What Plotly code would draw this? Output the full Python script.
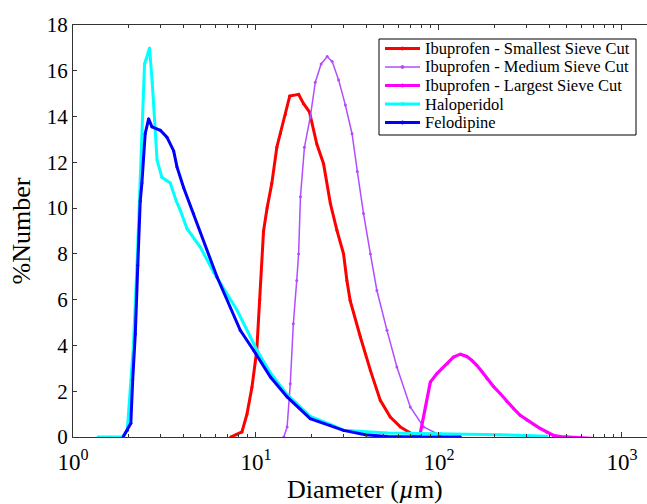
import plotly.graph_objects as go

# Number-weighted particle size distributions (diameter in µm, % number)
small_d = [7.28, 7.80, 8.38, 8.93, 9.51, 10.1, 10.5, 11.0, 11.5, 12.2, 13.0, 13.6, 14.5, 15.3,
           17.1, 18.2, 19.6, 21.5, 23.4, 25.5, 27.7, 30.1, 31.4, 32.7, 37.2, 42.2, 47.8, 54.2,
           61.5, 69.8, 79.1]
small_n = [0.0, 0.1, 0.22, 1.0, 2.18, 3.79, 6.0, 9.0, 10.0, 11.07, 12.66, 13.25, 14.1, 14.9,
           14.97, 14.56, 14.2, 12.8, 11.94, 10.2, 9.03, 8.0, 6.84, 5.97, 4.37, 2.91, 1.6, 0.87,
           0.44, 0.17, 0.0]

medium_d = [14.2, 14.8, 15.4, 16.0, 16.7, 17.1, 17.5, 18.4, 19.8, 21.1, 22.7, 24.5, 26.1, 28.3,
            30.8, 33.5, 35.8, 38.7, 42.2, 45.8, 52.0, 58.9, 69.7, 82.4, 102.0]
medium_n = [0.0, 0.44, 2.33, 4.95, 6.84, 8.0, 10.5, 12.66, 13.97, 15.5, 16.3, 16.62, 16.4, 15.6,
            14.5, 13.25, 11.6, 9.76, 8.0, 6.4, 4.66, 3.06, 1.31, 0.44, 0.07]

large_d = [69.7, 74.2, 79.1, 84.2, 89.7, 97.5, 104, 111, 120, 131, 142, 151, 161, 172, 183, 199,
           216, 235, 256, 278, 303, 330, 358, 390, 423, 460, 500, 570, 644, 715, 793]
large_n = [-0.1, 0.0, 0.17, 1.31, 2.4, 2.77, 3.0, 3.2, 3.49, 3.62, 3.52, 3.35, 3.13, 2.85, 2.55,
           2.2, 1.9, 1.55, 1.24, 0.95, 0.73, 0.55, 0.37, 0.2, 0.07, 0.02, 0.0, -0.04, -0.07,
           -0.08, -0.09]

halo_d = [1.37, 1.60, 1.86, 1.98, 2.14, 2.25, 2.36, 2.46, 2.51, 2.62, 2.71, 2.88, 3.06, 3.24,
          3.40, 3.67, 3.86, 4.20, 4.96, 5.87, 7.87, 10.1, 12.0, 14.8, 19.8, 25.5, 30.0, 52.0,
          102.0, 216.0, 389.0]
halo_n = [0.0, 0.0, 0.0, 0.3, 4.0, 8.0, 12.5, 16.3, 16.5, 17.0, 15.5, 12.1, 11.35, 11.2, 11.1,
          10.3, 9.9, 9.1, 8.3, 7.2, 5.55, 3.8, 2.8, 1.85, 0.9, 0.55, 0.3, 0.17, 0.15, 0.1, 0.03]

felo_d = [1.88, 1.98, 2.07, 2.12, 2.19, 2.26, 2.33, 2.38, 2.48, 2.59, 2.70, 3.00, 3.26, 3.55,
          3.70, 4.02, 4.56, 6.12, 8.21, 9.70, 12.0, 14.8, 19.8, 25.5, 30.1, 39.6, 52.0, 79.0, 131.0]
felo_n = [0.0, 0.3, 0.6, 2.5, 4.5, 7.5, 10.3, 11.1, 13.25, 13.9, 13.55, 13.4, 13.1, 12.5, 11.8,
          10.9, 9.75, 7.0, 4.66, 3.79, 2.62, 1.75, 0.8, 0.5, 0.29, 0.1, 0.02, 0.0, 0.0]

series_names = ["Ibuprofen - Smallest Sieve Cut", "Ibuprofen - Medium Sieve Cut",
                "Ibuprofen - Largest Sieve Cut", "Haloperidol", "Felodipine"]
series_d = [small_d, medium_d, large_d, halo_d, felo_d]
series_n = [small_n, medium_n, large_n, halo_n, felo_n]
series_colors = ["#ff0000", "#b24cff", "#ff00ff", "#00ffff", "#0000ff"]
series_widths = [3, 1.5, 3.2, 3, 3]

x_ticks = [1, 10, 100, 1000]
x_tick_text = ["10<sup>0</sup>", "10<sup>1</sup>", "10<sup>2</sup>", "10<sup>3</sup>"]
y_ticks = list(range(0, 19, 2))

serif = "Liberation Serif, Times New Roman, serif"

W, H = 647, 504
ML, MR, MT, MB = 73, 0, 25, 67
PW, PH = W - ML - MR, H - MT - MB


def px_x(px):
    return (px - ML) / PW


def px_y(py):
    return (H - MB - py) / PH


fig = go.Figure()
for name, d, n, color, lw in zip(series_names, series_d, series_n, series_colors, series_widths):
    fig.add_trace(go.Scatter(
        x=d, y=n, name=name, mode="lines+markers", showlegend=False,
        line=dict(color=color, width=lw),
        marker=dict(color=color, size=3, symbol="circle"),
    ))

# Boxed key in the upper right of the axes
box_l, box_r, box_t, box_b = 379, 636, 39, 135
row_y = [48.5, 67.0, 85.5, 104.0, 122.5]
shapes = [dict(type="rect", xref="paper", yref="paper",
               x0=px_x(box_l), x1=px_x(box_r), y0=px_y(box_b), y1=px_y(box_t),
               line=dict(color="black", width=1), fillcolor="white", layer="above")]
annotations = []
for name, color, lw, ry in zip(series_names, series_colors, series_widths, row_y):
    shapes.append(dict(type="line", xref="paper", yref="paper",
                       x0=px_x(385), x1=px_x(420), y0=px_y(ry), y1=px_y(ry),
                       line=dict(color=color, width=lw), layer="above"))
    shapes.append(dict(type="circle", xref="paper", yref="paper",
                       x0=px_x(401), x1=px_x(404), y0=px_y(ry + 1.5), y1=px_y(ry - 1.5),
                       line=dict(color=color, width=1), fillcolor=color, layer="above"))
    annotations.append(dict(xref="paper", yref="paper", x=px_x(423), y=px_y(ry),
                            xanchor="left", yanchor="middle", showarrow=False, text=name,
                            font=dict(family=serif, size=16.5, color="black")))

# x-axis title
annotations.append(dict(xref="paper", yref="paper", x=px_x(365), y=px_y(489),
                        xanchor="center", yanchor="middle", showarrow=False,
                        text="Diameter (<i>µ</i>m)",
                        font=dict(family=serif, size=26, color="black")))

minor_vals = [m * 10 ** e for e in range(0, 4) for m in range(2, 10)]

fig.update_layout(
    width=W, height=H,
    margin=dict(l=ML, r=MR, t=MT, b=MB),
    paper_bgcolor="white", plot_bgcolor="white",
    font=dict(family=serif, color="black"),
    showlegend=False,
    shapes=shapes,
    annotations=annotations,
    xaxis=dict(
        type="log", range=[0, 3.137],
        tickmode="array", tickvals=x_ticks, ticktext=x_tick_text,
        ticks="inside", ticklen=5, tickcolor="#333",
        showline=True, linecolor="#333", linewidth=1, mirror="ticks",
        showgrid=False, zeroline=False,
        tickfont=dict(family=serif, size=23, color="black"),
        ticklabelstandoff=4,
        minor=dict(tickmode="array", tickvals=minor_vals, ticks="inside",
                   ticklen=3, tickcolor="#333", showgrid=False),
    ),
    yaxis=dict(
        range=[0, 18], tickvals=y_ticks,
        ticks="inside", ticklen=4, tickcolor="#333",
        showline=True, linecolor="#333", linewidth=1, mirror=False,
        showgrid=False, zeroline=False,
        tickfont=dict(family=serif, size=21, color="black"),
        title=dict(text="%Number", font=dict(family=serif, size=26, color="black"),
                   standoff=8),
    ),
)

fig.write_html("out.html")
